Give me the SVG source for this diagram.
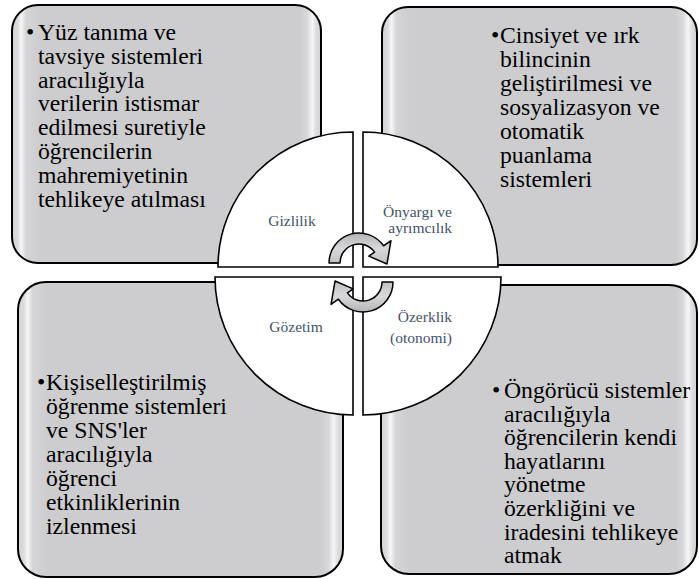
<svg xmlns="http://www.w3.org/2000/svg" width="699" height="579" viewBox="0 0 699 579">
<defs>
<linearGradient id="boxg" x1="0" y1="0" x2="1" y2="0">
<stop offset="0" stop-color="#d2d2d4"/>
<stop offset="0.018" stop-color="#dcdcde"/>
<stop offset="0.03" stop-color="#f6f6f7"/>
<stop offset="0.045" stop-color="#d6d6d8"/>
<stop offset="0.09" stop-color="#cdcdcf"/>
<stop offset="0.93" stop-color="#cdcdcf"/>
<stop offset="0.955" stop-color="#d8d8da"/>
<stop offset="0.972" stop-color="#f6f6f7"/>
<stop offset="0.985" stop-color="#dcdcde"/>
<stop offset="1" stop-color="#d2d2d4"/>
</linearGradient>
<linearGradient id="arrg" x1="0" y1="0" x2="0" y2="1">
<stop offset="0" stop-color="#b4b4b6"/>
<stop offset="0.5" stop-color="#d8d8da"/>
<stop offset="1" stop-color="#c2c2c4"/>
</linearGradient>
</defs>
<style>
.box{fill:url(#boxg);stroke:#000;stroke-width:2}
.q{fill:#fff;stroke:#000;stroke-width:1.6}
.arr{fill:url(#arrg);stroke:#000;stroke-width:1.5;stroke-linejoin:round}
.t{font-family:"Liberation Serif","Times New Roman",serif;font-size:23.7px;fill:#000}
.lbl{font-family:"Liberation Serif","Times New Roman",serif;font-size:15.5px;fill:#44546a}
</style>
<rect width="699" height="579" fill="#fff"/>

<g id="box-gizlilik">
<rect class="box" x="12" y="5" width="309" height="258" rx="26"/>
<text class="t"><tspan x="26" y="40">•</tspan><tspan x="38" y="40">Yüz tanıma ve</tspan><tspan x="38" y="63.8">tavsiye sistemleri</tspan><tspan x="38" y="87.6">aracılığıyla</tspan><tspan x="38" y="111.4">verilerin istismar</tspan><tspan x="38" y="135.2">edilmesi suretiyle</tspan><tspan x="38" y="159">öğrencilerin</tspan><tspan x="38" y="182.8">mahremiyetinin</tspan><tspan x="38" y="206.6">tehlikeye atılması</tspan></text>
</g>

<g id="box-onyargi">
<rect class="box" x="382" y="7" width="315" height="258" rx="26"/>
<text class="t"><tspan x="491" y="42.5">•</tspan><tspan x="500" y="42.5">Cinsiyet ve ırk</tspan><tspan x="500" y="66.5">bilincinin</tspan><tspan x="500" y="90.5">geliştirilmesi ve</tspan><tspan x="500" y="114.5">sosyalizasyon ve</tspan><tspan x="500" y="138.5">otomatik</tspan><tspan x="500" y="162.5">puanlama</tspan><tspan x="500" y="186.5">sistemleri</tspan></text>
</g>

<g id="box-gozetim">
<rect class="box" x="18" y="282" width="325" height="295" rx="28"/>
<text class="t"><tspan x="37" y="390">•</tspan><tspan x="46" y="390">Kişiselleştirilmiş</tspan><tspan x="46" y="414">öğrenme sistemleri</tspan><tspan x="46" y="438">ve SNS'ler</tspan><tspan x="46" y="462">aracılığıyla</tspan><tspan x="46" y="486">öğrenci</tspan><tspan x="46" y="510">etkinliklerinin</tspan><tspan x="46" y="534">izlenmesi</tspan></text>
</g>

<g id="box-ozerklik">
<rect class="box" x="381" y="285" width="316" height="289" rx="28"/>
<text class="t"><tspan x="492" y="398">•</tspan><tspan x="504" y="398">Öngörücü sistemler</tspan><tspan x="504" y="421.6">aracılığıyla</tspan><tspan x="504" y="445.2">öğrencilerin kendi</tspan><tspan x="504" y="468.8">hayatlarını</tspan><tspan x="504" y="492.4">yönetme</tspan><tspan x="504" y="516">özerkliğini ve</tspan><tspan x="504" y="539.6">iradesini tehlikeye</tspan><tspan x="504" y="563.2">atmak</tspan></text>
</g>

<g id="q-gizlilik">
<path class="q" d="M353,267 L218,267 A135,135 0 0 1 353,132 Z"/>
<text class="lbl" x="292" y="226" text-anchor="middle">Gizlilik</text>
</g>
<g id="q-onyargi">
<path class="q" d="M363,267 L363,132 A135,135 0 0 1 498,267 Z"/>
<text class="lbl" text-anchor="end"><tspan x="452" y="217">Önyargı ve</tspan><tspan x="452" y="233">ayrımcılık</tspan></text>
</g>
<g id="q-gozetim">
<path class="q" d="M353,277 L353,415 A138,138 0 0 1 215,277 Z"/>
<text class="lbl" x="296" y="332" text-anchor="middle">Gözetim</text>
</g>
<g id="q-ozerklik">
<path class="q" d="M363,277 L501,277 A138,138 0 0 1 363,415 Z"/>
<text class="lbl" text-anchor="end"><tspan x="452" y="322">Özerklik</tspan><tspan x="452" y="343">(otonomi)</tspan></text>
</g>

<g id="connectors">
<path class="arr" d="M329,263 A30,30 0 0 1 383.57,245.79 L390.95,240.63 L386.98,263.98 L368.83,256.12 L374.56,252.1 A19,19 0 0 0 340,263 Z"/>
<path class="arr" transform="rotate(180 361 272.5)" d="M329,263 A30,30 0 0 1 383.57,245.79 L390.95,240.63 L386.98,263.98 L368.83,256.12 L374.56,252.1 A19,19 0 0 0 340,263 Z"/>
</g>
</svg>
